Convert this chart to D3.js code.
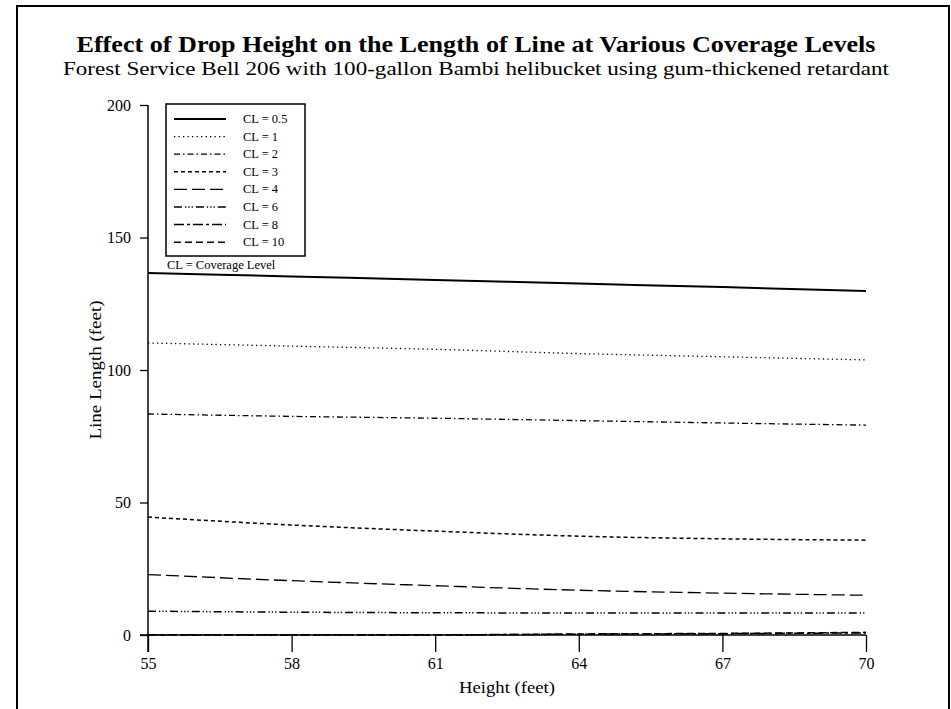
<!DOCTYPE html>
<html><head><meta charset="utf-8">
<script src="https://cdn.jsdelivr.net/npm/d3@7/dist/d3.min.js"></script>
<style>body{margin:0;background:#fff}svg{display:block}</style>
</head><body><svg id="c" width="951" height="709"></svg>
<script>
const heights = [55, 58, 61, 64, 67, 70];
const xTicks = [55, 58, 61, 64, 67, 70];
const yTicks = [0, 50, 100, 150, 200];
const seriesNames = ["CL = 0.5","CL = 1","CL = 2","CL = 3","CL = 4","CL = 6","CL = 8","CL = 10"];
const cl05 = [136.6, 135.3, 134.0, 132.6, 131.3, 129.8];
const cl1  = [110.2, 109.0, 107.8, 106.2, 105.0, 103.8];
const cl2  = [83.4, 82.5, 81.8, 80.9, 80.0, 79.2];
const cl3  = [44.5, 41.5, 39.2, 37.3, 36.3, 35.8];
const cl4  = [22.8, 20.5, 18.6, 16.9, 15.8, 15.0];
const cl6  = [9.0, 8.6, 8.4, 8.3, 8.3, 8.3];
const cl8  = [0.1, 0.1, 0.1, 0.3, 0.5, 0.8];
const cl10 = [0.0, 0.0, 0.0, 0.4, 0.6, 1.0];
const seriesValues = [cl05, cl1, cl2, cl3, cl4, cl6, cl8, cl10];

const FONT = '"Liberation Serif","Times New Roman",Times,serif';
const styles = [
  {w:2, dash:null},
  {w:1.3, dash:"1.3,3.2"},
  {w:1.3, dash:"6,3,1.5,3"},
  {w:1.5, dash:"4,3"},
  {w:1.3, dash:"13,5"},
  {w:1.5, dash:"8,3,1.3,2,1.3,2,1.3,3"},
  {w:1.5, dash:"10,3,3,3"},
  {w:1.5, dash:"7,4"}
];

const svg = d3.select("#c");
svg.append("rect").attr("x",17).attr("y",6).attr("width",932).attr("height",712)
  .attr("fill","none").attr("stroke","#000").attr("stroke-width",2);

const x = d3.scaleLinear().domain([55,70]).range([148,866]);
const y = d3.scaleLinear().domain([0,200]).range([635,105]);

function txt(xp, yp, s, size, opts={}) {
  const t = svg.append("text").attr("x",xp).attr("y",yp)
    .attr("font-family",FONT).attr("font-size",size+"px").attr("fill","#000")
    .attr("text-anchor",opts.anchor||"start").text(s);
  if (opts.bold) t.attr("font-weight","bold");
  if (opts.len) t.attr("textLength",opts.len).attr("lengthAdjust","spacingAndGlyphs");
  if (opts.transform) t.attr("transform",opts.transform);
  return t;
}

txt(476, 52, "Effect of Drop Height on the Length of Line at Various Coverage Levels", 24, {anchor:"middle", bold:true, len:799});
txt(476, 75, "Forest Service Bell 206 with 100-gallon Bambi helibucket using gum-thickened retardant", 19, {anchor:"middle", len:826});

const gx = svg.append("g").attr("transform","translate(0,635)")
  .call(d3.axisBottom(x).tickValues(xTicks).tickSize(17).tickPadding(6).tickFormat(d3.format("d")));
gx.attr("font-family",FONT).attr("font-size",16);
gx.select(".domain").remove();
gx.selectAll("text").attr("fill","#000");
gx.selectAll("line").attr("stroke","#000").attr("stroke-width",1.3);
svg.append("line").attr("x1",140).attr("x2",866).attr("y1",635).attr("y2",635)
  .attr("stroke","#000").attr("stroke-width",1.5);

const gy = svg.append("g").attr("transform","translate(148,0)")
  .call(d3.axisLeft(y).tickValues(yTicks).tickSize(8).tickPadding(9));
gy.attr("font-family",FONT).attr("font-size",16);
gy.select(".domain").remove();
gy.selectAll("text").attr("fill","#000");
gy.selectAll("line").attr("stroke","#000").attr("stroke-width",1.3);
svg.append("line").attr("x1",148).attr("x2",148).attr("y1",105).attr("y2",652)
  .attr("stroke","#000").attr("stroke-width",1.5);

txt(507, 693, "Height (feet)", 17, {anchor:"middle", len:96});
txt(0, 0, "Line Length (feet)", 17, {anchor:"middle", len:139, transform:"translate(101,370) rotate(-90)"});

const line = d3.line().x((d,i)=>x(heights[i])).y(d=>y(d)).curve(d3.curveMonotoneX);
seriesValues.forEach((vals,k)=>{
  svg.append("path").datum(vals).attr("d",line).attr("fill","none")
    .attr("stroke","#000").attr("stroke-width",styles[k].w)
    .attr("stroke-dasharray",styles[k].dash);
});

svg.append("rect").attr("x",166).attr("y",104).attr("width",139).attr("height",152)
  .attr("fill","#fff").attr("stroke","#000").attr("stroke-width",1.5);
seriesNames.forEach((n,k)=>{
  const yy = 119 + k*17.6;
  svg.append("line").attr("x1",174).attr("x2",226).attr("y1",yy).attr("y2",yy)
    .attr("stroke","#000").attr("stroke-width",styles[k].w)
    .attr("stroke-dasharray",styles[k].dash);
  txt(243, yy+4, n, 12.5);
});
txt(167, 269, "CL = Coverage Level", 12.5);
</script></body></html>
